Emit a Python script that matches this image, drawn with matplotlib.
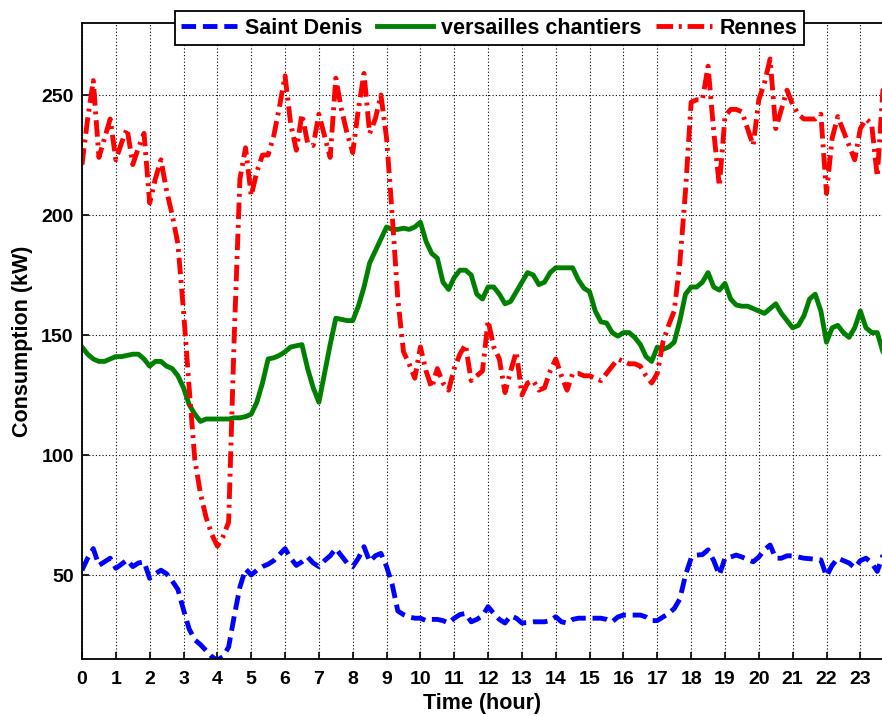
import numpy as np
import matplotlib
matplotlib.use("Agg")
import matplotlib.pyplot as plt

# 10-minute samples over the day (hours)
time_h = np.arange(144) / 6.0

saint_denis = [
    52, 57, 61, 54, 55.5, 57,
    52.8, 54.5, 56.3, 53.5, 55, 55.5,
    48.6, 50.5, 52, 50.5, 47.5, 44,
    35.5, 27.5, 23, 21, 18.5, 16,
    14.5, 16, 20, 33, 45, 52.5,
    50, 52, 53.5, 54.5, 56, 58.5,
    61, 57, 54, 55.5, 57.5, 55,
    53.5, 56, 58, 61, 58, 55,
    53.5, 57, 61.8, 55.6, 58, 59,
    53.5, 46, 35, 33.5, 32.5, 32,
    32, 31, 31.5, 31.5, 31, 30,
    32, 33.5, 34, 30.5, 31.5, 33,
    36.8, 34, 31.5, 30, 33, 32,
    30, 30.2, 30.5, 30.5, 30.5, 31,
    32.6, 30.5, 30, 31.5, 32, 32,
    32, 32, 32, 31.5, 30.5, 32.5,
    33.3, 33.3, 33.3, 33.3, 32.5, 31,
    31, 32.5, 34, 36, 40, 50,
    57, 58.3, 58.5, 60.5, 56, 50,
    57, 57.5, 58.3, 57.5, 56.5, 55.5,
    57.5, 60.5, 62.5, 57, 57, 58,
    58, 57.5, 57, 56.8, 56.5, 56.3,
    49.5, 54, 57, 56, 55, 53,
    56, 57, 55, 51.5, 58.3, 58,
]

versailles = [
    145, 142, 140, 139, 139, 140,
    141, 141, 141.5, 142, 142, 140,
    137, 139, 139, 137, 136, 133,
    128, 121, 117, 114, 115, 115,
    115, 115, 115, 115.5, 115.5, 116,
    117, 122, 130, 140, 140.5, 141.5,
    143, 145, 145.5, 146, 136, 128,
    122, 134, 146, 157, 156.5, 156,
    156, 162, 170, 180, 185, 190,
    195, 194, 194, 194.5, 194, 195,
    197, 189, 184, 182, 172, 169,
    174, 177, 177, 175, 167, 165,
    170, 170, 167, 163, 164, 168,
    172, 176, 175, 171, 172, 176,
    178, 178, 178, 178, 173, 169.5,
    168, 160, 155.5, 155, 151, 149.5,
    151, 151, 149, 146, 141, 139,
    145, 144, 145, 147, 156, 167,
    170, 170, 172, 176, 170, 168.7,
    171.5, 165, 162.5, 162, 162, 161,
    160, 159, 161, 163, 159, 156,
    153, 154, 158, 165, 167, 160,
    147, 153, 154, 151, 149, 153,
    160, 153, 151, 151, 143, 145,
]

rennes = [
    221, 240, 256, 224, 232, 240,
    223, 230, 236, 221, 228, 234,
    205, 215, 223, 210, 200, 188,
    160, 128, 98, 84, 74, 67,
    62, 66, 72, 150, 215, 228,
    208, 218, 225, 225, 233, 245,
    258, 238, 227, 242, 230, 229,
    242, 233, 224, 257, 244, 234,
    226, 244, 259, 234, 240, 250,
    232, 200, 165, 143, 138, 132,
    145, 135, 128, 136, 130, 127,
    136, 142, 146, 131, 133, 135,
    156, 145, 140, 126, 135, 143,
    125, 130, 131, 127, 128, 135,
    140, 133, 127, 134, 134, 133,
    133, 132, 131, 134, 137, 140,
    139, 138, 138, 137, 133, 130,
    134, 147, 154, 160, 180, 210,
    247, 248, 248, 262, 235, 212,
    241, 244, 244, 243, 236, 229,
    248, 255, 265, 236, 244, 252,
    246, 242, 240, 240, 240, 242,
    209, 232, 241, 235, 229, 223,
    236, 240, 238, 216, 252, 250,
]

labels = ["Saint Denis", "versailles chantiers", "Rennes"]
x_ticks = list(range(0, 24))
y_ticks = [50, 100, 150, 200, 250]

plt.rcParams['font.family'] = ['Liberation Sans', 'DejaVu Sans']
plt.rcParams['font.weight'] = 'bold'

fig = plt.figure(figsize=(8.82, 7.16), dpi=100)
ax = fig.add_axes([82 / 882, 57 / 716, 800 / 882, 636 / 716])

lw = 3.5
ax.plot(time_h, saint_denis, color='#0000ff', lw=lw, linestyle=(0, (3.0, 1.4)), label=labels[0])
ax.plot(time_h, versailles, color='#008000', lw=lw, linestyle='-', label=labels[1])
ax.plot(time_h, rennes, color='#ff0000', lw=lw, linestyle=(0, (3.4, 1.2, 0.6, 1.2)), label=labels[2])

ax.set_xlim(0, 23.64)
ax.set_ylim(15, 280)
ax.set_xticks(x_ticks)
ax.set_yticks(y_ticks)
ax.tick_params(direction='in', length=5, width=1.2, labelsize=14)
ax.tick_params(axis='x', pad=9)
ax.tick_params(axis='y', pad=6)
for t in ax.get_xticklabels() + ax.get_yticklabels():
    t.set_fontweight('bold')

ax.grid(True, color='black', linestyle=(0, (1, 2)), linewidth=0.8)
for s in ['left', 'bottom', 'top']:
    ax.spines[s].set_linewidth(1.3)
ax.spines['right'].set_visible(False)

ax.set_xlabel('Time (hour)', fontsize=15.5, fontweight='bold', labelpad=3)
ax.set_ylabel('Consumption (kW)', fontsize=15.5, fontweight='bold', labelpad=6)

leg = fig.legend(loc='center', bbox_to_anchor=(489.5 / 882, 688 / 716), ncol=3,
                 fontsize=15.5, frameon=True, fancybox=False, framealpha=1,
                 edgecolor='black', handlelength=2.6, columnspacing=0.7,
                 handletextpad=0.35, borderpad=0.3, borderaxespad=0)
leg.get_frame().set_linewidth(1.3)
for t in leg.get_texts():
    t.set_fontweight('bold')

fig.savefig('out.png', dpi=100)
